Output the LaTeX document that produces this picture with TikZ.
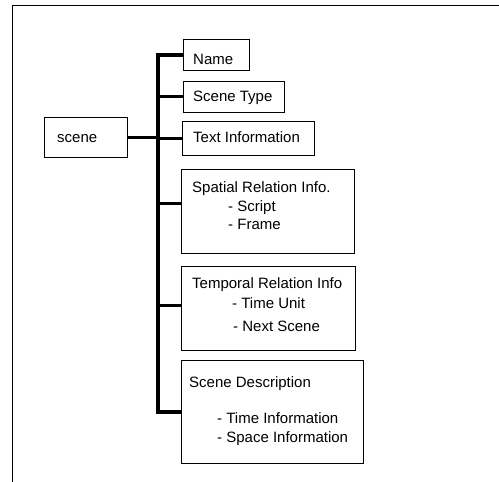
\documentclass[tikz,border=0pt]{standalone}
\usepackage{fontspec}
\setmainfont{Liberation Sans}
\begin{document}
\begin{tikzpicture}[x=1pt,y=-1pt,
  box/.style={draw,line width=0.9pt,inner sep=0pt},
  lbl/.style={anchor=base west,inner sep=0pt,font=\fontsize{15}{18}\selectfont},
  bus/.style={line width=4pt},
  stub/.style={line width=3pt},
  frameline/.style={line width=1pt}]
\useasboundingbox (0,0) rectangle (499,482);

% page frame (left and top edges)
\coordinate (fbl) at (12,482);
\coordinate (ftl) at (12,5.5);
\coordinate (ftr) at (499,5.5);
\draw[frameline] (fbl) -- (ftl) -- (ftr);

% boxes
\newcommand{\boxat}[5]{\node[box,minimum width=#4-#2,minimum height=#5-#3] (#1) at ({(#2+#4)/2},{(#3+#5)/2}) {};}
\boxat{scene}{44}{117}{127}{157}
\boxat{name}{183}{39}{249}{70}
\boxat{stype}{183}{81}{284}{112}
\boxat{tinfo}{182}{121}{314}{155}
\boxat{spatial}{181}{169}{354}{253}
\boxat{temporal}{181}{266}{355}{350}
\boxat{desc}{181}{360}{363}{463}

% labels
\node[lbl] (tscene) at (57,142.5) {scene};
\node[lbl] (tname) at (193,64) {Name};
\node[lbl] (tstype) at (193,101.5) {Scene Type};
\node[lbl] (ttinfo) at (193,142.5) {Text Information};
\node[lbl] (tsp1) at (192,192.5) {Spatial Relation Info.};
\node[lbl] (tsp2) at (228,211.5) {- Script};
\node[lbl] (tsp3) at (228,229.5) {- Frame};
\node[lbl] (ttm1) at (192,288.5) {Temporal Relation Info};
\node[lbl] (ttm2) at (232,308.5) {- Time Unit};
\node[lbl] (ttm3) at (233,331.5) {- Next Scene};
\node[lbl] (tds1) at (189,387.5) {Scene Description};
\node[lbl] (tds2) at (217,423.5) {- Time Information};
\node[lbl] (tds3) at (217,442.5) {- Space Information};

% connector bus
\coordinate (bustop) at (158,54.5);
\coordinate (busbot) at (158,411.5);
\draw[bus] (name.west) -- (bustop) -- (busbot) -- (desc.west);
\draw[stub] (stype.west) -- (stype.west -| bustop);
\draw[stub] (tinfo.west) -- (tinfo.west -| bustop);
\draw[stub] (scene.east) -- (scene.east -| bustop);
\draw[stub] ([yshift=8pt]spatial.west) -- ([yshift=8pt]spatial.west -| bustop);
\draw[stub] ([yshift=3pt]temporal.west) -- ([yshift=3pt]temporal.west -| bustop);
\end{tikzpicture}
\end{document}
